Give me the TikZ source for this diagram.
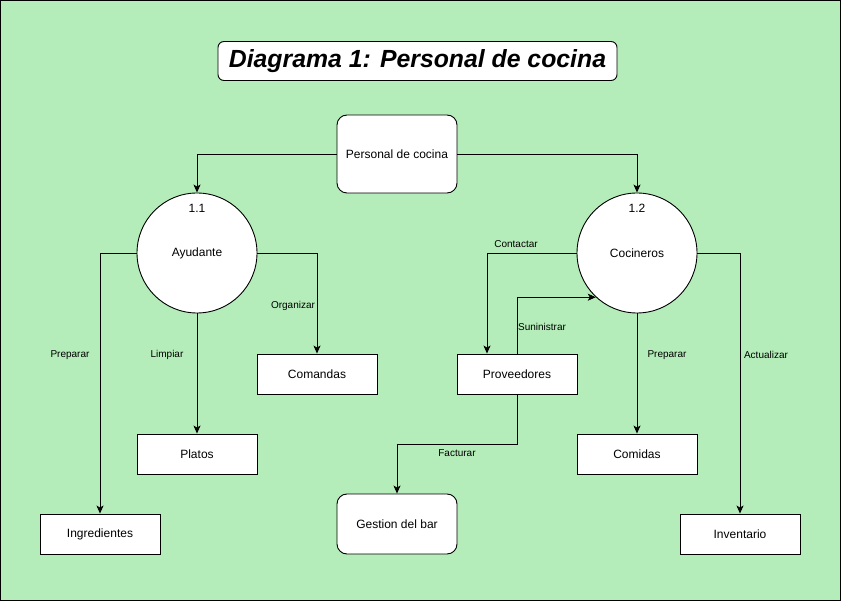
\documentclass[tikz,border=0pt]{standalone}
\usepackage{fontspec}
\setmainfont{Liberation Sans}
\usetikzlibrary{arrows.meta}
\definecolor{bg}{RGB}{180,237,185}
\tikzset{
  box/.style={draw=black, fill=white, line width=0.9pt, minimum width=120pt, minimum height=40pt, inner sep=0pt, font=\fontsize{12}{14}\selectfont},
  rbox/.style={box, rounded corners=10pt, minimum height=78pt},
  proc/.style={draw=black, fill=white, line width=0.9pt, circle, minimum size=120pt, inner sep=0pt},
  ptext/.style={font=\fontsize{12}{14}\selectfont, inner sep=0pt},
  elabel/.style={font=\fontsize{10}{12}\selectfont, inner sep=0pt},
  arr/.style={draw=black, line width=0.9pt, -{Stealth[length=8pt,width=7pt,inset=2pt]}},
}
\begin{document}
\begin{tikzpicture}[x=1pt,y=-1pt]
\useasboundingbox (0,0) rectangle (841,601);
\fill[bg] (0,0) rectangle (841,601);
\draw[black, line width=1pt] (0.5,0.5) rectangle (840.5,600.5);

% title
\node[draw=black, fill=white, rounded corners=6pt, line width=0.9pt, minimum width=399pt, minimum height=39pt, inner sep=0pt,
      font=\fontsize{24.8}{28}\selectfont\bfseries\itshape] (title) at (417.5,61) {Diagrama 1: Personal de cocina};

% nodes
\node[rbox] (pc) at (397,154) {Personal de cocina};
\node[proc] (a) at (197,253) {};
\node[ptext] (an) at (197,208) {1.1};
\node[ptext] (at) at (197,253) {Ayudante};
\node[proc] (c) at (637,253) {};
\node[ptext] (cn) at (637,208) {1.2};
\node[ptext] (ct) at (637,253) {Cocineros};

\node[box] (com) at (317,374) {Comandas};
\node[box] (pla) at (197,454) {Platos};
\node[box] (ing) at (100,534) {Ingredientes};
\node[box] (prov) at (517,374) {Proveedores};
\node[box] (comi) at (637,454) {Comidas};
\node[box] (inv) at (740,534) {Inventario};
\node[rbox, minimum height=60pt] (gb) at (397,524) {Gestion del bar};

% connectors
\draw[arr] (pc.west) -| (a.north);
\draw[arr] (pc.east) -| (c.north);
\draw[arr] (a.west) -| (ing.north);
\draw[arr] (a.south) -- (pla.north);
\draw[arr] (a.east) -| (com.north);
\draw[arr] (c.west) -| ([xshift=-30pt]prov.north);
\draw[arr] (prov.north) |- (c.227);
\draw[arr] (prov.south) -- ++(0,50) -| (gb.north);
\draw[arr] (c.south) -- (comi.north);
\draw[arr] (c.east) -| (inv.north);

% labels
\node[elabel] (l1) at (70,355) {Preparar};
\node[elabel] (l2) at (167,355) {Limpiar};
\node[elabel] (l3) at (293,306) {Organizar};
\node[elabel] (l4) at (516,244) {Contactar};
\node[elabel] (l5) at (542,327) {Suninistrar};
\node[elabel] (l6) at (457,453) {Facturar};
\node[elabel] (l7) at (667,355) {Preparar};
\node[elabel] (l8) at (766,355) {Actualizar};
\end{tikzpicture}
\end{document}
